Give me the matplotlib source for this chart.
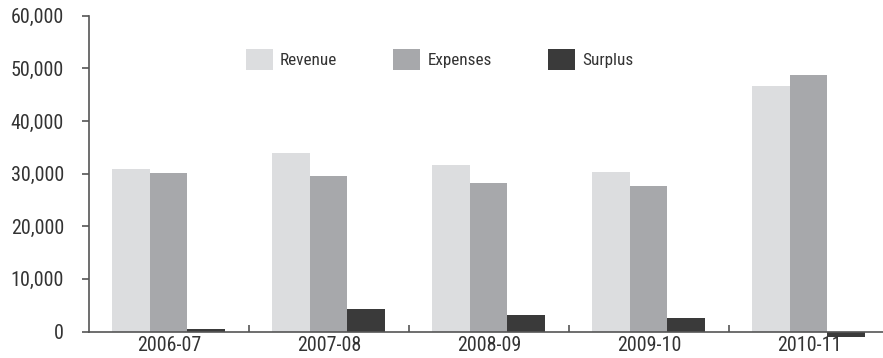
import matplotlib
matplotlib.use("Agg")
import matplotlib.pyplot as plt
import numpy as np
from matplotlib.ticker import FuncFormatter, FixedLocator

plt.rcParams['font.family'] = ['Roboto Condensed', 'Liberation Sans', 'DejaVu Sans']

# financial summary by year
years = ["2006-07", "2007-08", "2008-09", "2009-10", "2010-11"]
revenue = [30800, 33900, 31600, 30300, 46600]
expenses = [30100, 29500, 28200, 27600, 48700]
surplus = [400, 4300, 3200, 2500, -1000]

series = ["Revenue", "Expenses", "Surplus"]
colors = ["#dcdddf", "#a7a8ab", "#3a3a3a"]
text_col = "#333333"
axis_col = "#555555"

fig = plt.figure(figsize=(8.83, 3.58), dpi=100)
W, H = 883, 358
# axes box in pixels: left 89, right 889, bottom 331.5, top 15.7
ax = fig.add_axes([89 / W, (H - 331.5) / H, 800 / W, (331.5 - 15.7) / H])

x = np.arange(len(years))
bw = 0.236
for i, (vals, name, c) in enumerate(zip([revenue, expenses, surplus], series, colors)):
    ax.bar(x + (i - 1) * bw - 0.003, vals, width=bw, color=c, label=name,
           linewidth=0, clip_on=False)

ax.set_xlim(-0.5, len(years) - 0.5)
ax.set_ylim(0, 60000)
ax.set_yticks(np.arange(0, 60001, 10000))
ax.yaxis.set_major_formatter(FuncFormatter(lambda v, p: f"{int(v):,}"))

ax.set_xticks(x)
ax.set_xticklabels(years)
ax.xaxis.set_minor_locator(FixedLocator(x[:-1] + 0.5))

for s in ["top", "right"]:
    ax.spines[s].set_visible(False)
for s in ["left", "bottom"]:
    ax.spines[s].set_color(axis_col)
    ax.spines[s].set_linewidth(1.2)
    ax.spines[s].set_zorder(3)

ax.tick_params(axis="y", direction="out", length=5, width=1.2, color=axis_col,
               pad=13, labelsize=14.4, labelcolor=text_col)
ax.tick_params(axis="x", which="major", length=0, pad=3, labelsize=14.4, labelcolor=text_col)
ax.tick_params(axis="x", which="minor", direction="in", length=5, width=1.2, color=axis_col)

ax.legend(ncol=3, loc="upper left", bbox_to_anchor=(150 / 800, 0.917), frameon=False,
          fontsize=12.3, handlelength=1.58, handleheight=1.58, handletextpad=0.41,
          columnspacing=3.3, borderaxespad=0, labelcolor=text_col)

fig.savefig("out.png", dpi=100)
